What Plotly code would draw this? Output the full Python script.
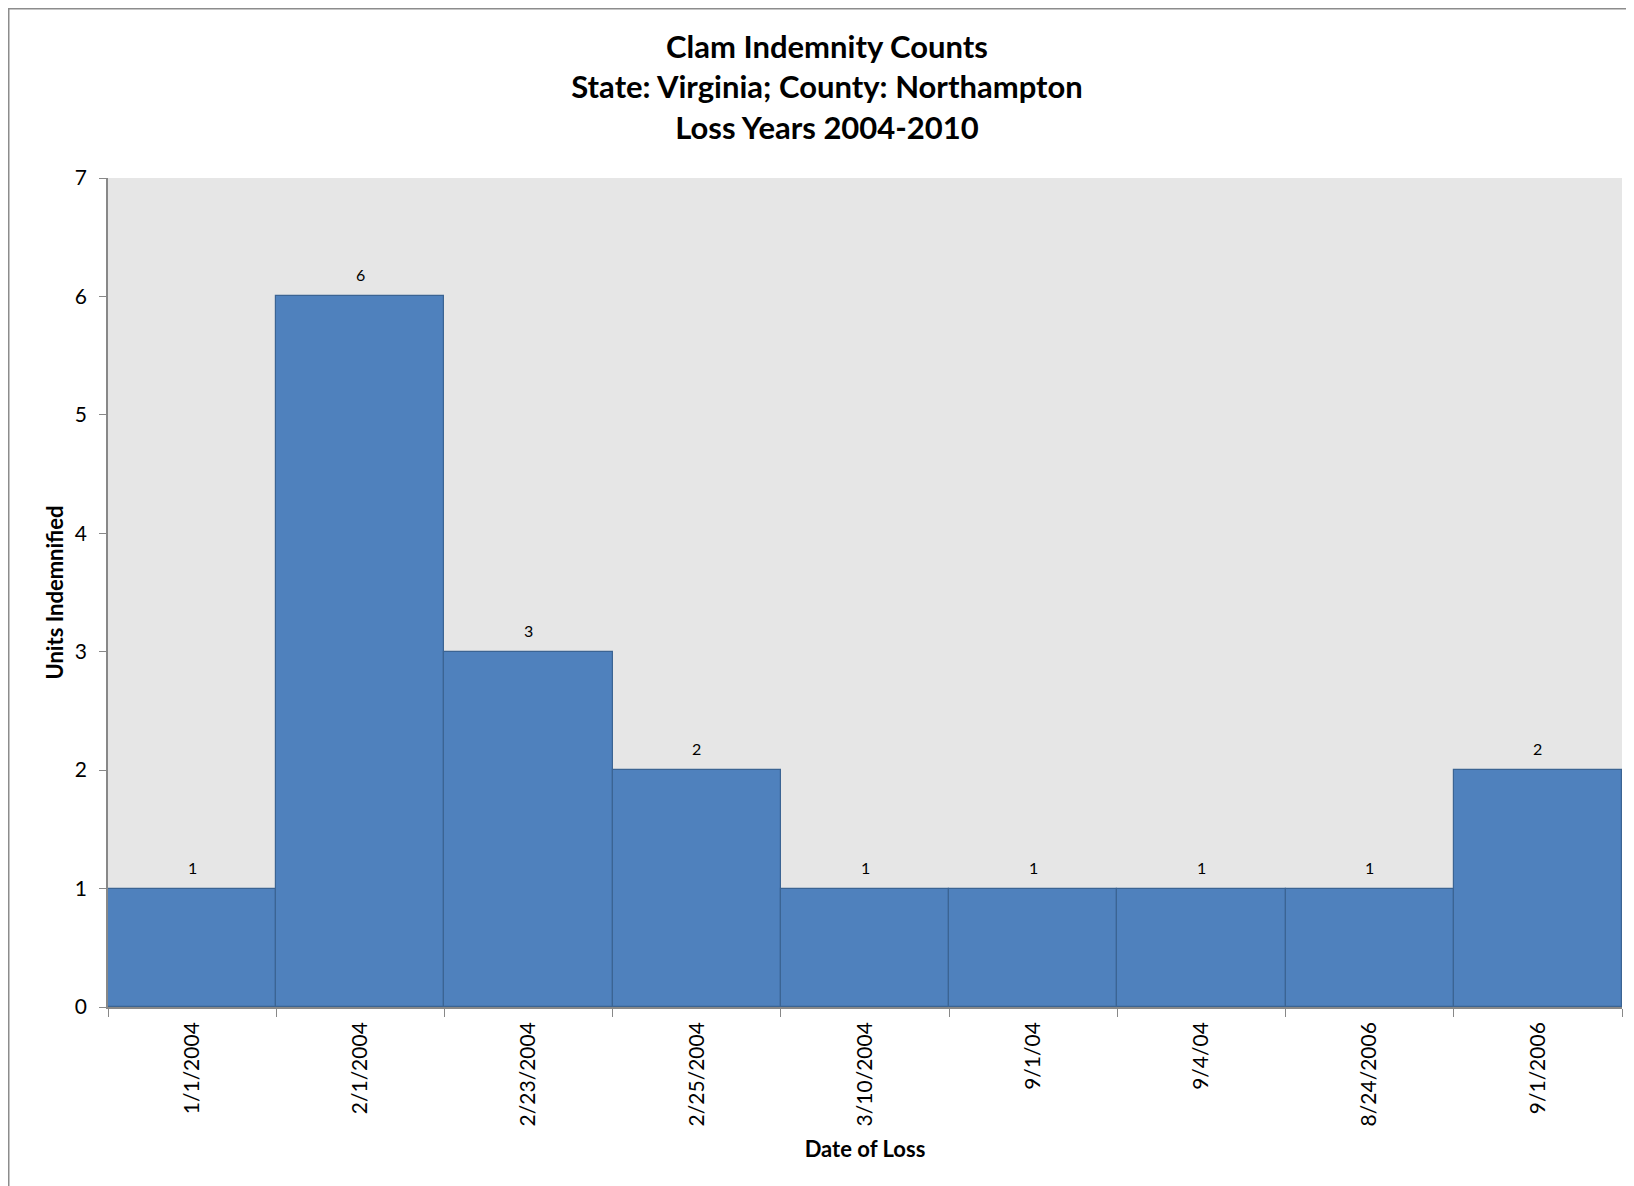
import plotly.graph_objects as go

dates = ["1/1/2004", "2/1/2004", "2/23/2004", "2/25/2004", "3/10/2004",
         "9/1/04", "9/4/04", "8/24/2006", "9/1/2006"]
units = [1, 6, 3, 2, 1, 1, 1, 1, 2]

title_lines = ["Clam Indemnity Counts",
               "State: Virginia; County: Northampton",
               "Loss Years 2004-2010"]

W, H = 1634, 1186
L, R, T, B = 100, 20, 170, 187
pw, ph = W - L - R, H - T - B

fig = go.Figure()
fig.add_trace(go.Bar(
    x=dates, y=units,
    marker=dict(color="#4f81bd", line=dict(color="#3b6493", width=1.2)),
    width=1.0,
))

for d, v in zip(dates, units):
    fig.add_annotation(x=d, y=v, text=str(v), showarrow=False,
                       yanchor="bottom", yshift=10,
                       font=dict(family="Lato", size=16, color="#000"))

fig.add_shape(type="rect", xref="paper", yref="paper",
              x0=(0.75 - L) / pw, x1=1.2, y0=-0.4, y1=(H - B - 0.75) / ph,
              line=dict(color="#8c8c8c", width=1.5), layer="below")

fig.update_layout(
    width=W, height=H,
    margin=dict(l=L, r=R, t=T, b=B),
    paper_bgcolor="white",
    plot_bgcolor="#e6e6e6",
    bargap=0,
    showlegend=False,
    font=dict(family="Lato", color="#000"),
    title=dict(text="<br>".join(title_lines), x=819 / W, xanchor="center",
               xref="container", y=1 - 50 / H, yanchor="top",
               font=dict(family="Lato", size=31, color="#000", weight="bold")),
)
fig.update_xaxes(
    type="category", tickangle=-90, tickson="boundaries",
    ticks="outside", ticklen=8, tickcolor="#888", showline=True,
    linecolor="#888", linewidth=1.5, showgrid=False,
    tickfont=dict(family="Lato", size=21),
    ticklabelstandoff=5,
    title=dict(text="<b>Date of Loss</b>", font=dict(family="Lato", size=22),
               standoff=16),
    range=[-0.5, len(dates) - 0.5],
)
fig.update_yaxes(
    range=[0, 7], dtick=1, ticks="outside", ticklen=7, tickcolor="#888",
    showline=True, linecolor="#888", linewidth=1.5, showgrid=False,
    zeroline=False, tickfont=dict(family="Lato", size=21),
    ticklabelstandoff=8,
    title=dict(text="<b>Units Indemnified</b>", font=dict(family="Lato", size=22),
               standoff=5),
)

fig.write_html("out.html")
